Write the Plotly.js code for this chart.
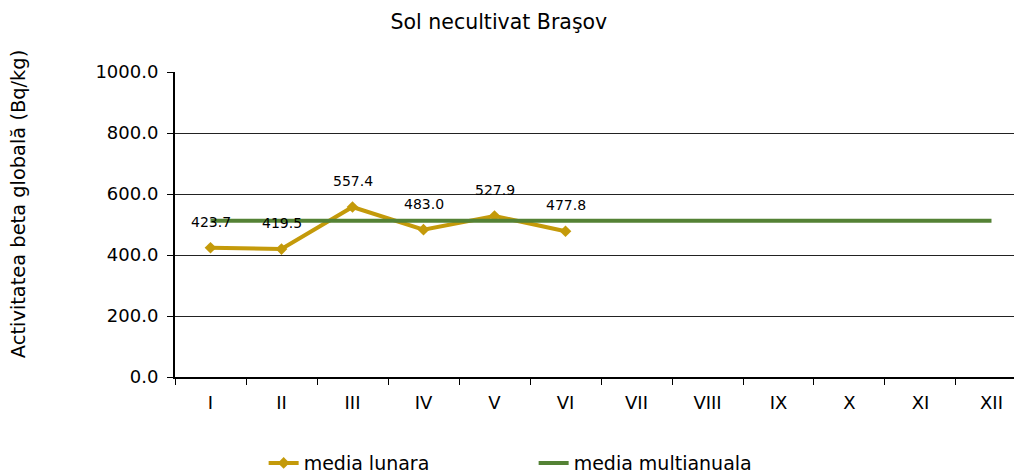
<!DOCTYPE html>
<html>
<head>
<meta charset="utf-8">
<script src="https://cdn.plot.ly/plotly-3.0.1.min.js"></script>
<style>html,body{margin:0;padding:0;background:#fff;}#chart{width:1014px;height:474px;}</style>
</head>
<body>
<div id="chart"></div>
<script>
var months = ["I","II","III","IV","V","VI","VII","VIII","IX","X","XI","XII"];
var lunaraMonths = ["I","II","III","IV","V","VI"];
var lunaraValues = [423.7, 419.5, 557.4, 483.0, 527.9, 477.8];
var multianualaValues = [512,512,512,512,512,512,512,512,512,512,512,512];
var chartTitle = "Sol necultivat Braşov";
var yTitle = "Activitatea beta globală (Bq/kg)";

var font = "DejaVu Sans, Verdana, sans-serif";

var traces = [
  {
    x: lunaraMonths, y: lunaraValues, type: "scatter", mode: "lines+markers",
    name: "media lunara",
    line: {color: "#C49A0A", width: 4},
    marker: {symbol: "diamond", size: 9, color: "#C49A0A"}
  },
  {
    x: months, y: multianualaValues, type: "scatter", mode: "lines",
    name: "media multianuala",
    line: {color: "#548235", width: 4}
  }
];

var annotations = lunaraMonths.map(function(m, i) {
  return {
    x: m, y: lunaraValues[i], xref: "x", yref: "y",
    text: lunaraValues[i].toFixed(1), showarrow: false,
    yshift: 26, font: {family: font, size: 14, color: "#000"}
  };
});
annotations.push({
  text: yTitle, xref: "paper", yref: "paper", x: -0.187, y: 0.567,
  xanchor: "center", yanchor: "middle", textangle: -90, showarrow: false,
  font: {family: font, size: 19.4, color: "#000"}
});

var layout = {
  width: 1014, height: 474,
  margin: {l: 175, r: 0, t: 72, b: 97, autoexpand: false},
  paper_bgcolor: "#fff", plot_bgcolor: "#fff",
  font: {family: font, color: "#000"},
  title: {text: chartTitle, x: 0.492, xref: "container", xanchor: "center",
          y: 0.953, yref: "container", yanchor: "middle",
          font: {family: font, size: 20.5, color: "#000"}},
  xaxis: {
    type: "category", categoryorder: "array", categoryarray: months,
    range: [-0.5, 11.317], tickson: "boundaries", ticks: "outside", ticklen: 6,
    tickcolor: "#000", showgrid: false, showline: true, linecolor: "#000", linewidth: 2,
    tickfont: {family: font, size: 18, color: "#000"}, zeroline: false, fixedrange: true,
    automargin: false, ticklabelstandoff: 8
  },
  yaxis: {
    range: [0, 1000], dtick: 200, tickformat: ".1f", ticks: "outside", ticklen: 6,
    tickcolor: "#000", showgrid: true, gridcolor: "#222", gridwidth: 1,
    showline: true, linecolor: "#000", linewidth: 2, zeroline: false,
    tickfont: {family: font, size: 18, color: "#000"}, automargin: false,
    ticklabelstandoff: 5
  },
  showlegend: true,
  legend: {
    orientation: "h", x: 0.26, xref: "container", xanchor: "left",
    y: 0.023, yref: "container", yanchor: "middle",
    font: {family: font, size: 19, color: "#000"},
    entrywidth: 225, entrywidthmode: "pixels", bgcolor: "rgba(0,0,0,0)"
  },
  annotations: annotations
};

Plotly.newPlot("chart", traces, layout, {displayModeBar: false, staticPlot: true});
</script>
</body>
</html>
